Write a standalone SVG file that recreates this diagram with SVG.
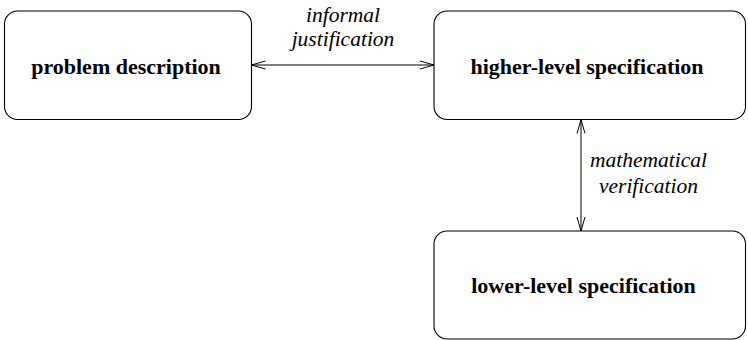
<svg xmlns="http://www.w3.org/2000/svg" width="748" height="340" viewBox="0 0 748 340">
<style>
.box{fill:#fff;stroke:#000;stroke-width:1.1}
.lbl{font-family:"Liberation Serif","Times New Roman",serif;font-weight:bold;font-size:22px;fill:#000;text-anchor:middle}
.it{font-family:"Liberation Serif","Times New Roman",serif;font-style:italic;font-size:21.5px;fill:#000;text-anchor:middle}
.con{stroke:#000;stroke-width:1;fill:none}
</style>
<defs>
<marker id="ah" viewBox="0 0 14 10" refX="14" refY="5" markerWidth="14" markerHeight="10" markerUnits="userSpaceOnUse" orient="auto-start-reverse">
<path d="M0,1 L14,5 L0,9" fill="none" stroke="#000" stroke-width="1"/>
</marker>
</defs>
<g id="problem">
<rect class="box" x="4.5" y="11" width="247" height="108.5" rx="13"/>
<text class="lbl" x="126" y="74">problem description</text>
</g>
<g id="higher">
<rect class="box" x="434" y="11" width="311.5" height="108.5" rx="13"/>
<text class="lbl" x="587" y="74">higher-level specification</text>
</g>
<g id="lower">
<rect class="box" x="434" y="231" width="311.5" height="108" rx="13"/>
<text class="lbl" x="583.5" y="293">lower-level specification</text>
</g>
<g id="connectors">
<line class="con" x1="251.5" y1="65" x2="434" y2="65" marker-start="url(#ah)" marker-end="url(#ah)"/>
<line class="con" x1="581" y1="119.5" x2="581" y2="231" marker-start="url(#ah)" marker-end="url(#ah)"/>
<text class="it" x="343" y="22">informal</text>
<text class="it" x="343" y="46">justification</text>
<text class="it" x="648.5" y="167">mathematical</text>
<text class="it" x="648.5" y="193">verification</text>
</g>
</svg>
